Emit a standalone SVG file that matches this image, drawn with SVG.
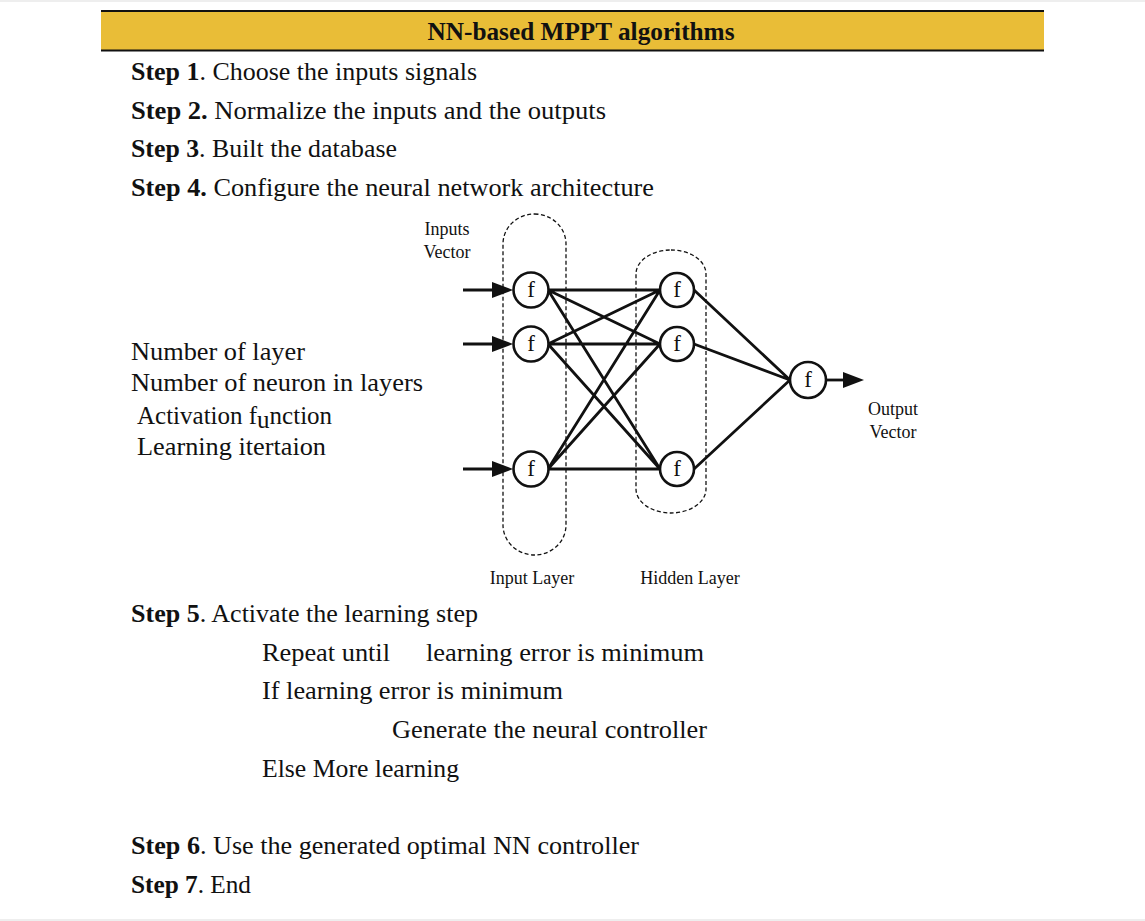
<svg xmlns="http://www.w3.org/2000/svg" width="1145" height="921" viewBox="0 0 1145 921">
<style>
.t{font-family:"Liberation Serif","Times New Roman",serif;font-size:25px;fill:#111}
.b{font-weight:bold}
.s{font-family:"Liberation Serif","Times New Roman",serif;font-size:18px;fill:#111}
.f{font-family:"Liberation Serif","Times New Roman",serif;font-size:23px;fill:#111;text-anchor:middle}
.n{fill:#fff;stroke:#111;stroke-width:2.6}
.c{stroke:#111;stroke-width:2.8;fill:none}
.d{fill:none;stroke:#111;stroke-width:1.3;stroke-dasharray:4 2.5}
</style>
<defs>
<marker id="ah" markerUnits="userSpaceOnUse" markerWidth="22" markerHeight="18" refX="13" refY="8" orient="auto">
<path d="M0,0 L21,8 L0,16 z" fill="#111"/>
</marker>
</defs>
<rect x="0" y="0" width="1145" height="921" fill="#fff"/>
<rect x="0" y="0" width="1145" height="2" fill="#eeeeee"/>
<rect x="0" y="919" width="1145" height="2" fill="#eeeeee"/>
<g id="header">
<rect x="101" y="11" width="943" height="40" fill="#E9BD37"/>
<line x1="101" y1="11" x2="1044" y2="11" stroke="#111" stroke-width="2"/>
<line x1="101" y1="50.5" x2="1044" y2="50.5" stroke="#111" stroke-width="2"/>
<text x="581" y="40" class="t b" text-anchor="middle" textLength="307" lengthAdjust="spacingAndGlyphs" style="font-size:25px">NN-based MPPT algorithms</text>
</g>
<g id="steps">
<text x="131" y="80" class="t" textLength="346" lengthAdjust="spacingAndGlyphs"><tspan class="b">Step 1</tspan>. Choose the inputs signals</text>
<text x="131" y="119" class="t" textLength="475" lengthAdjust="spacingAndGlyphs"><tspan class="b">Step 2.</tspan> Normalize the inputs and the outputs</text>
<text x="131" y="157" class="t" textLength="266" lengthAdjust="spacingAndGlyphs"><tspan class="b">Step 3</tspan>. Built the database</text>
<text x="131" y="196" class="t" textLength="523" lengthAdjust="spacingAndGlyphs"><tspan class="b">Step 4.</tspan> Configure the neural network architecture</text>
<text x="131" y="622" class="t" textLength="347" lengthAdjust="spacingAndGlyphs"><tspan class="b">Step 5</tspan>. Activate the learning step</text>
<text x="262" y="661" class="t" textLength="128" lengthAdjust="spacingAndGlyphs">Repeat until</text>
<text x="426" y="661" class="t" textLength="278" lengthAdjust="spacingAndGlyphs">learning error is minimum</text>
<text x="262" y="699" class="t" textLength="301" lengthAdjust="spacingAndGlyphs">If learning error is minimum</text>
<text x="392" y="738" class="t" textLength="315" lengthAdjust="spacingAndGlyphs">Generate the neural controller</text>
<text x="262" y="777" class="t" textLength="197" lengthAdjust="spacingAndGlyphs">Else More learning</text>
<text x="131" y="854" class="t" textLength="508" lengthAdjust="spacingAndGlyphs"><tspan class="b">Step 6</tspan>. Use the generated optimal NN controller</text>
<text x="131" y="893" class="t" textLength="120" lengthAdjust="spacingAndGlyphs"><tspan class="b">Step 7</tspan>. End</text>
</g>
<g id="params">
<text x="131" y="360" class="t" textLength="174" lengthAdjust="spacingAndGlyphs">Number of layer</text>
<text x="131" y="391" class="t" textLength="292" lengthAdjust="spacingAndGlyphs">Number of neuron in layers</text>
<text x="137" y="424" class="t">Activation f<tspan dy="4">u</tspan><tspan dy="-4">nction</tspan></text>
<text x="137" y="455" class="t" textLength="189" lengthAdjust="spacingAndGlyphs">Learning itertaion</text>
</g>
<g id="layers">
<rect id="input-layer" x="503" y="214" width="63" height="341" rx="31.5" ry="30" class="d"/>
<rect id="hidden-layer" x="636" y="250" width="70" height="263" rx="35" ry="24" class="d"/>
</g>
<g id="connectors">
<line x1="463" y1="290" x2="505" y2="290" class="c" marker-end="url(#ah)"/>
<line x1="463" y1="344" x2="505" y2="344" class="c" marker-end="url(#ah)"/>
<line x1="463" y1="469" x2="505" y2="469" class="c" marker-end="url(#ah)"/>
<path class="c" d="M548,290 L660,290 M548,290 L660,344 M548,290 L660,469 M548,344 L660,290 M548,344 L660,344 M548,344 L660,469 M548,469 L660,290 M548,469 L660,344 M548,469 L660,469 M694,290 L790,380 M694,344 L790,380 M694,469 L790,380"/>
<line x1="826" y1="380" x2="856" y2="380" class="c" marker-end="url(#ah)"/>
</g>
<g id="in1"><circle cx="531" cy="290" r="17.5" class="n"/><text x="531" y="297" class="f">f</text></g>
<g id="in2"><circle cx="531" cy="344" r="17.5" class="n"/><text x="531" y="351" class="f">f</text></g>
<g id="in3"><circle cx="531" cy="469" r="17.5" class="n"/><text x="531" y="476" class="f">f</text></g>
<g id="hid1"><circle cx="677" cy="290" r="17" class="n"/><text x="677" y="297" class="f">f</text></g>
<g id="hid2"><circle cx="677" cy="344" r="17" class="n"/><text x="677" y="351" class="f">f</text></g>
<g id="hid3"><circle cx="677" cy="469" r="17" class="n"/><text x="677" y="476" class="f">f</text></g>
<g id="out"><circle cx="808" cy="380" r="18" class="n"/><text x="808" y="387" class="f">f</text></g>
<g id="labels">
<text x="447" y="235" class="s" text-anchor="middle">Inputs</text>
<text x="447" y="258" class="s" text-anchor="middle">Vector</text>
<text x="532" y="584" class="s" text-anchor="middle">Input Layer</text>
<text x="690" y="584" class="s" text-anchor="middle">Hidden Layer</text>
<text x="893" y="415" class="s" text-anchor="middle">Output</text>
<text x="893" y="438" class="s" text-anchor="middle">Vector</text>
</g>
</svg>
